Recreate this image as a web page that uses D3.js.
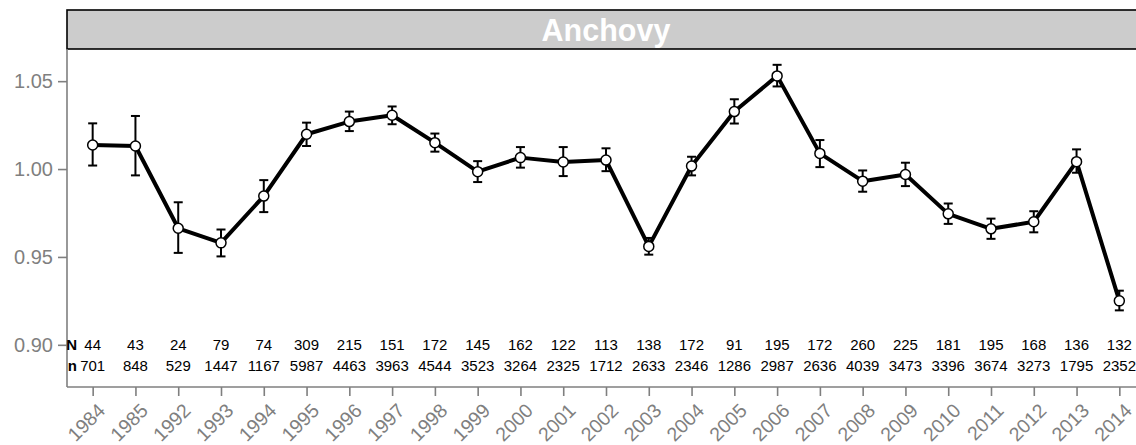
<!DOCTYPE html>
<html>
<head>
<meta charset="utf-8">
<script src="https://cdn.jsdelivr.net/npm/d3@7"></script>
<style>
  html, body { margin: 0; padding: 0; background: #fff; }
  svg { display: block; font-family: "Liberation Sans", Arial, sans-serif; }
</style>
</head>
<body>
<svg id="chart" width="1136" height="445"></svg>
<script>
// Anchovy condition index by year, with confidence interval and sample sizes
const years = ["1984","1985","1992","1993","1994","1995","1996","1997","1998","1999",
  "2000","2001","2002","2003","2004","2005","2006","2007","2008","2009",
  "2010","2011","2012","2013","2014"];
const meanValues = [1.0137,1.0131,0.9663,0.9580,0.9846,1.0198,1.0270,1.0306,1.0150,0.9985,
  1.0065,1.0040,1.0051,0.9560,1.0017,1.0327,1.0530,1.0089,0.9931,0.9969,
  0.9745,0.9660,0.9700,1.0042,0.9250];
const upperValues = [1.0260,1.0302,0.9811,0.9656,0.9937,1.0264,1.0327,1.0356,1.0202,1.0045,
  1.0125,1.0125,1.0118,0.9608,1.0070,1.0397,1.0593,1.0165,0.9992,1.0036,
  0.9804,0.9718,0.9760,1.0112,0.9308];
const lowerValues = [1.0020,0.9964,0.9523,0.9503,0.9755,1.0131,1.0216,1.0255,1.0099,0.9926,
  1.0008,0.9960,0.9988,0.9513,0.9964,1.0259,1.0470,1.0011,0.9871,0.9903,
  0.9688,0.9603,0.9640,0.9979,0.9196];
const hauls = [44,43,24,79,74,309,215,151,172,145,162,122,113,138,172,91,195,172,260,225,181,195,168,136,132];
const fish = [701,848,529,1447,1167,5987,4463,3963,4544,3523,3264,2325,1712,2633,2346,1286,2987,2636,4039,3473,3396,3674,3273,1795,2352];
const yTicks = [0.90, 0.95, 1.00, 1.05];
const panelTitle = "Anchovy";

const svg = d3.select("#chart");
const panel = { left: 67, right: 1145, top: 49, bottom: 387 };
const grey = "#7f7f7f";

const x = d3.scalePoint().domain(years).range([panel.left, panel.right]).padding(0.6);
const y = d3.scaleLinear().domain([0.876, 1.0683]).range([panel.bottom, panel.top]);

// facet strip
svg.append("rect")
  .attr("x", panel.left).attr("y", 10)
  .attr("width", panel.right - panel.left + 10).attr("height", 39)
  .attr("fill", "#cccccc").attr("stroke", "#000").attr("stroke-width", 1.6);
svg.append("text")
  .attr("x", (panel.left + panel.right) / 2).attr("y", 40.5)
  .attr("text-anchor", "middle")
  .attr("font-size", 30.5).attr("font-weight", "bold").attr("fill", "#fff")
  .text(panelTitle);

// axes
const yAxis = d3.axisLeft(y).tickValues(yTicks).tickFormat(d3.format(".2f")).tickSize(9).tickPadding(5);
const gy = svg.append("g").attr("transform", `translate(${panel.left},0)`).call(yAxis);
gy.select(".domain").attr("d", `M0,${panel.top}V${panel.bottom}`);
const xAxis = d3.axisBottom(x).tickSize(9).tickFormat("");
const gx = svg.append("g").attr("transform", `translate(0,${panel.bottom})`).call(xAxis);
gx.select(".domain").attr("d", `M${panel.left},0H${panel.right}`);
[gx, gy].forEach(g => {
  g.selectAll(".domain, line").attr("stroke", grey).attr("stroke-width", 1.6);
});
gy.selectAll("text").attr("fill", grey).attr("font-size", 20)
  .attr("font-family", "Liberation Sans, Arial, sans-serif");

// rotated year labels
svg.append("g").selectAll("text").data(years).join("text")
  .attr("transform", d => `translate(${x(d) + 4},${panel.bottom + 15}) rotate(-45)`)
  .attr("text-anchor", "end")
  .attr("dy", "0.71em")
  .attr("fill", grey).attr("font-size", 19.5)
  .text(d => d);

// sample size rows
const rows = [
  { label: "N", values: hauls, yv: 0.90 },
  { label: "n", values: fish, yv: 0.888 }
];
rows.forEach(r => {
  svg.append("text").attr("x", 77).attr("y", y(r.yv)).attr("dy", "0.35em")
    .attr("text-anchor", "end").attr("font-weight", "bold").attr("font-size", 15)
    .attr("fill", "#000").text(r.label);
  svg.append("g").selectAll("text").data(r.values).join("text")
    .attr("x", (d, i) => x(years[i])).attr("y", y(r.yv)).attr("dy", "0.35em")
    .attr("text-anchor", "middle").attr("font-size", 15).attr("fill", "#000")
    .text(d => d);
});

// error bars
const eb = svg.append("g").attr("stroke", "#000").attr("stroke-width", 2);
years.forEach((yr, i) => {
  const cx = x(yr);
  eb.append("line").attr("x1", cx).attr("x2", cx).attr("y1", y(upperValues[i])).attr("y2", y(lowerValues[i]));
  [upperValues[i], lowerValues[i]].forEach(v => {
    eb.append("line").attr("x1", cx - 4.5).attr("x2", cx + 4.5).attr("y1", y(v)).attr("y2", y(v));
  });
});

// mean line
const line = d3.line().x((d, i) => x(years[i])).y(d => y(d));
svg.append("path").datum(meanValues)
  .attr("d", line).attr("fill", "none").attr("stroke", "#000")
  .attr("stroke-width", 4).attr("stroke-linejoin", "round");

// points
svg.append("g").selectAll("circle").data(meanValues).join("circle")
  .attr("cx", (d, i) => x(years[i])).attr("cy", d => y(d)).attr("r", 5)
  .attr("fill", "#fff").attr("stroke", "#000").attr("stroke-width", 1.5);
</script>
</body>
</html>
